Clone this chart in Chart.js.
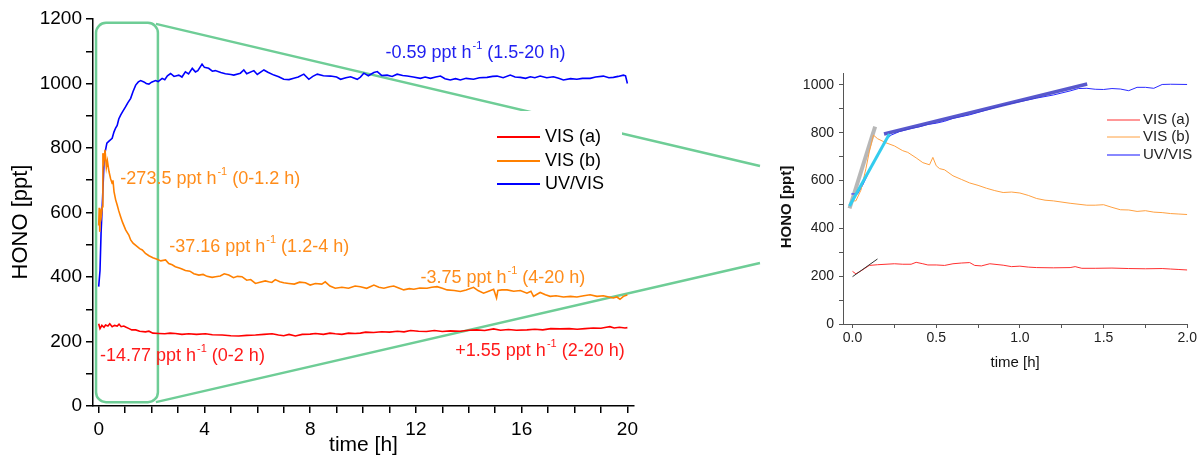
<!DOCTYPE html>
<html>
<head>
<meta charset="utf-8">
<script src="https://cdn.jsdelivr.net/npm/chart.js@4.4.1/dist/chart.umd.min.js"></script>
<style>
  html, body { margin: 0; padding: 0; background: #fff; }
  #wrap { position: relative; width: 1199px; height: 456px; overflow: hidden; }
  #main { position: absolute; left: 0; top: 0; }
  #inset { position: absolute; left: 760px; top: 0; }
</style>
</head>
<body>
<div id="wrap">
  <canvas id="main" width="1199" height="456"></canvas>
  <canvas id="inset" width="439" height="456"></canvas>
</div>
<script>
// ---- main panel data (time in h, HONO in ppt) ----
const redTime = [0, 0.05, 0.12, 0.2, 0.26, 0.35, 0.42, 0.51, 0.6, 0.7, 0.77, 0.85, 0.95, 1.02, 1.15, 1.25, 1.4, 1.55, 1.77, 1.9,
  2.05, 2.28, 2.5, 2.7, 2.9, 3.15, 3.41, 3.7, 4.04, 4.3, 4.67, 5.0, 5.3, 5.6, 5.93, 6.25, 6.56, 6.8, 7.0, 7.2,
  7.44, 7.7, 8.0, 8.2, 8.5, 8.75, 8.95, 9.2, 9.45, 9.7, 9.9, 10.1, 10.4, 10.7, 11.0, 11.3, 11.55, 11.8, 12.1, 12.4,
  12.7, 13.0, 13.3, 13.68, 14.0, 14.3, 14.6, 14.94, 15.2, 15.5, 15.8, 16.2, 16.5, 16.8, 17.1, 17.46, 17.8, 18.1, 18.4, 18.71,
  19.0, 19.2, 19.34, 19.5, 19.7, 19.91, 20.0];
const redValues = [255, 240, 250, 244, 251, 248, 255, 246, 250, 248, 254, 246, 248, 245, 240, 236, 236, 232, 230, 232,
  226, 225, 224, 226, 225, 222, 224, 222, 224, 221, 220, 218, 217, 219, 220, 222, 224, 220, 218, 222,
  217, 222, 223, 225, 222, 226, 224, 222, 226, 225, 226, 229, 228, 230, 229, 232, 230, 234, 232, 231,
  234, 231, 233, 232, 235, 236, 234, 239, 235, 237, 235, 236, 238, 236, 240, 239, 240, 238, 240, 242,
  241, 244, 246, 242, 244, 242, 243];

const orangeTime = [0, 0.02, 0.04, 0.07, 0.1, 0.14, 0.16, 0.2, 0.24, 0.29, 0.33, 0.39, 0.45, 0.51, 0.54, 0.58, 0.64, 0.7, 0.76, 0.83,
  0.9, 1.02, 1.14, 1.21, 1.3, 1.46, 1.55, 1.65, 1.77, 1.9, 2.05, 2.21, 2.35, 2.53, 2.65, 2.78, 2.9, 3.05, 3.15, 3.28,
  3.45, 3.6, 3.79, 3.95, 4.1, 4.29, 4.42, 4.6, 4.75, 4.92, 5.1, 5.25, 5.42, 5.6, 5.75, 5.93, 6.1, 6.3, 6.43, 6.55,
  6.68, 6.85, 7.0, 7.19, 7.4, 7.6, 7.82, 8.0, 8.2, 8.44, 8.57, 8.75, 8.95, 9.2, 9.45, 9.7, 9.9, 10.14, 10.41, 10.6,
  10.79, 11.0, 11.16, 11.35, 11.54, 11.75, 11.92, 12.15, 12.42, 12.6, 12.8, 13.0, 13.18, 13.45, 13.68, 13.9, 14.18, 14.35, 14.56, 14.75,
  14.94, 15.05, 15.1, 15.25, 15.45, 15.7, 15.95, 16.2, 16.35, 16.45, 16.55, 16.7, 16.9, 17.08, 17.3, 17.58, 17.85, 18.09, 18.35, 18.59,
  18.85, 19.09, 19.3, 19.47, 19.6, 19.72, 19.85, 19.91, 20.0];
const orangeValues = [560, 615, 540, 610, 590, 618, 784, 760, 794, 740, 760, 727, 705, 690, 700, 665, 640, 623, 605, 587,
  570, 546, 530, 515, 505, 494, 488, 484, 473, 466, 460, 455, 450, 453, 442, 438, 432, 428, 425, 420,
  418, 410, 406, 408, 402, 399, 401, 403, 410, 406, 398, 402, 401, 390, 392, 380, 384, 388, 385, 383,
  392, 385, 382, 380, 378, 384, 382, 375, 380, 378, 385, 372, 365, 368, 365, 372, 370, 365, 375, 368,
  365, 370, 372, 366, 360, 364, 362, 366, 365, 368, 370, 365, 360, 358, 355, 360, 368, 358, 350, 356,
  362, 335, 358, 360, 360, 356, 358, 350, 356, 340, 345, 352, 345, 340, 342, 338, 340, 338, 342, 345,
  340, 342, 338, 335, 338, 331, 340, 342, 344];

const blueTime = [0, 0.05, 0.09, 0.15, 0.21, 0.31, 0.4, 0.51, 0.58, 0.64, 0.7, 0.76, 0.83, 0.9, 1.02, 1.1, 1.21, 1.3, 1.4, 1.5,
  1.59, 1.71, 1.8, 1.9, 2.0, 2.15, 2.25, 2.4, 2.5, 2.6, 2.72, 2.85, 3.03, 3.15, 3.28, 3.4, 3.54, 3.66, 3.75, 3.91,
  4.0, 4.16, 4.3, 4.41, 4.62, 4.79, 5.0, 5.11, 5.36, 5.49, 5.6, 5.87, 6.0, 6.25, 6.4, 6.63, 6.81, 7.0, 7.2, 7.38,
  7.55, 7.76, 7.95, 8.1, 8.27, 8.5, 8.77, 9.0, 9.15, 9.35, 9.53, 9.78, 9.9, 10.03, 10.2, 10.41, 10.54, 10.7, 10.91, 11.1,
  11.29, 11.5, 11.67, 11.9, 12.17, 12.35, 12.55, 12.75, 12.93, 13.1, 13.3, 13.5, 13.68, 13.9, 14.18, 14.4, 14.69, 14.9, 15.07, 15.3,
  15.57, 15.75, 15.95, 16.15, 16.33, 16.5, 16.7, 16.95, 17.2, 17.4, 17.58, 17.85, 18.09, 18.3, 18.59, 18.8, 19.09, 19.3, 19.47, 19.65,
  19.85, 19.93, 20.0];
const blueValues = [370, 420, 536, 650, 773, 815, 822, 830, 850, 862, 870, 890, 902, 912, 928, 940, 954, 975, 995, 1005,
  1009, 1005, 1000, 998, 1004, 1009, 1006, 1016, 1012, 1024, 1031, 1022, 1026, 1020, 1036, 1030, 1047, 1036, 1040, 1060,
  1050, 1047, 1038, 1040, 1034, 1030, 1028, 1026, 1032, 1042, 1030, 1040, 1028, 1042, 1035, 1026, 1021, 1013, 1012, 1016,
  1020, 1029, 1013, 1022, 1029, 1024, 1023, 1020, 1013, 1018, 1021, 1013, 1020, 1032, 1024, 1034, 1037, 1025, 1026, 1022,
  1029, 1025, 1023, 1020, 1016, 1020, 1016, 1020, 1023, 1015, 1011, 1015, 1011, 1016, 1013, 1018, 1019, 1022, 1023, 1018,
  1026, 1020, 1019, 1016, 1021, 1018, 1023, 1018, 1021, 1016, 1011, 1015, 1013, 1016, 1016, 1020, 1023, 1018, 1019, 1022,
  1026, 1024, 1000];

// slope labels: [text, superscript, tail, x (h), y (ppt), colour]
const rateLabels = [
  ['-0.59 ppt h', '-1', ' (1.5-20 h)', 10.85, 1096, '#2020f0'],
  ['-273.5 ppt h', '-1', ' (0-1.2 h)', 0.82, 705, '#ff8c1a'],
  ['-37.16 ppt h', '-1', ' (1.2-4 h)', 2.67, 494, '#ff8c1a'],
  ['-3.75 ppt h', '-1', ' (4-20 h)', 12.17, 397, '#ff8c1a'],
  ['-14.77 ppt h', '-1', ' (0-2 h)', 0.05, 156, '#ff1a1a'],
  ['+1.55 ppt h', '-1', ' (2-20 h)', 13.49, 171, '#ff1a1a']
];
// zoomed region on the main panel: [tMin, tMax, vMin, vMax]
const zoomBox = [-0.1, 2.24, 12, 1188];

// ---- inset data (0-2 h) ----
const insetRedTime = [0, 0.02, 0.05, 0.1, 0.15, 0.2, 0.25, 0.3, 0.35, 0.38, 0.42, 0.45, 0.5, 0.55, 0.6, 0.65, 0.7, 0.73, 0.77, 0.82,
  0.9, 0.95, 1.0, 1.05, 1.1, 1.2, 1.3, 1.33, 1.37, 1.45, 1.55, 1.65, 1.75, 1.85, 1.9, 1.95, 2.0];
const insetRedValues = [220, 210, 222, 245, 248, 250, 252, 250, 250, 258, 252, 247, 247, 245, 252, 255, 257, 245, 243, 252,
  246, 240, 242, 238, 236, 235, 236, 240, 233, 233, 234, 232, 231, 232, 230, 228, 226];
const insetOrangeTime = [0, 0.02, 0.05, 0.08, 0.1, 0.125, 0.15, 0.2, 0.25, 0.3, 0.33, 0.38, 0.42, 0.46, 0.48, 0.5, 0.52, 0.55, 0.6, 0.65,
  0.7, 0.75, 0.8, 0.85, 0.9, 0.95, 1.0, 1.05, 1.1, 1.15, 1.2, 1.3, 1.4, 1.45, 1.5, 1.55, 1.6, 1.65, 1.7, 1.75,
  1.8, 1.85, 1.9, 1.95, 2.0];
const insetOrangeValues = [515, 515, 560, 650, 720, 790, 775, 758, 745, 725, 718, 695, 675, 666, 697, 662, 650, 645, 620, 605,
  590, 580, 568, 558, 550, 552, 548, 538, 525, 518, 515, 505, 497, 497, 499, 488, 478, 477, 471, 474,
  468, 466, 462, 460, 458];
const insetBlueTime = [-0.008, 0.03, 0.06, 0.1, 0.15, 0.2, 0.23, 0.28, 0.35, 0.4, 0.45, 0.5, 0.55, 0.6, 0.7, 0.8, 0.9, 1.0, 1.1, 1.2,
  1.3, 1.35, 1.4, 1.45, 1.5, 1.55, 1.6, 1.65, 1.7, 1.75, 1.8, 1.85, 1.9, 2.0];
const insetBlueValues = [544, 544, 580, 640, 710, 770, 790, 805, 818, 825, 835, 840, 848, 860, 875, 895, 915, 930, 945, 958,
  975, 985, 986, 982, 981, 985, 983, 976, 990, 990, 986, 1002, 1003, 1002];
// fitted lines in the inset: [t0, v0, t1, v1]
const fitGrey = [-0.018, 484, 0.135, 826];
const fitCyan = [-0.018, 494, 0.22, 795];
const fitBlue = [0.188, 795, 1.402, 1004];
const fitBlack = [0, 198, 0.149, 272];

const FONT = 'Arial, "Liberation Sans", sans-serif';
const GREEN = 'rgb(110,205,150)';

function pts(t, v) {
    return t.map((x, i) => ({ x: x, y: v[i] }));
}
function seg(f) {
    return [{ x: f[0], y: f[1] }, { x: f[2], y: f[3] }];
}
function stepTicks(from, to, step) {
    const out = [];
    for (let v = from; v <= to + 1e-9; v += step) out.push({ value: Math.round(v * 1000) / 1000 });
    return out;
}

// ---- main panel ----
const mainDecor = {
    id: 'mainDecor',
    beforeDatasetsDraw(chart) {
        const ctx = chart.ctx;
        const x = chart.scales.x, y = chart.scales.y;
        const l = x.getPixelForValue(zoomBox[0]), r = x.getPixelForValue(zoomBox[1]);
        const b = y.getPixelForValue(zoomBox[2]), t = y.getPixelForValue(zoomBox[3]);
        ctx.save();
        ctx.strokeStyle = GREEN;
        ctx.lineWidth = 2.5;
        ctx.beginPath();
        ctx.roundRect(l, t, r - l, b - t, 10);
        ctx.stroke();
        ctx.beginPath();
        ctx.moveTo(r - 2, t + 1);
        ctx.lineTo(760, 166);
        ctx.moveTo(r - 2, b);
        ctx.lineTo(760, 263);
        ctx.stroke();

        // legend box (white, hides the connector behind it)
        ctx.fillStyle = '#fff';
        ctx.fillRect(490, 111, 132, 88);
        const names = ['VIS (a)', 'VIS (b)', 'UV/VIS'];
        const cols = ['#ff0000', '#ff8000', '#0000ff'];
        const rows = [137, 161, 184];
        ctx.font = '18px ' + FONT;
        ctx.textBaseline = 'middle';
        for (let i = 0; i < 3; i++) {
            ctx.strokeStyle = cols[i];
            ctx.lineWidth = 2;
            ctx.beginPath();
            ctx.moveTo(497, rows[i]);
            ctx.lineTo(540, rows[i]);
            ctx.stroke();
            ctx.fillStyle = '#000';
            ctx.fillText(names[i], 545, rows[i]);
        }
        ctx.restore();
    },
    afterDatasetsDraw(chart) {
        const ctx = chart.ctx;
        const x = chart.scales.x, y = chart.scales.y;
        ctx.save();
        ctx.textBaseline = 'middle';
        rateLabels.forEach(function(a) {
            let px = x.getPixelForValue(a[3]);
            const py = y.getPixelForValue(a[4]);
            ctx.fillStyle = a[5];
            ctx.font = '18px ' + FONT;
            ctx.fillText(a[0], px, py);
            px += ctx.measureText(a[0]).width + 1;
            ctx.font = '11px ' + FONT;
            ctx.fillText(a[1], px, py - 7);
            px += ctx.measureText(a[1]).width;
            ctx.font = '18px ' + FONT;
            ctx.fillText(a[2], px, py);
        });
        // axis titles
        ctx.fillStyle = '#000';
        ctx.textAlign = 'center';
        ctx.font = '21px ' + FONT;
        ctx.fillText('time [h]', (chart.chartArea.left + chart.chartArea.right) / 2, 445);
        ctx.translate(21, 222);
        ctx.rotate(-Math.PI / 2);
        ctx.font = '22px ' + FONT;
        ctx.fillText('HONO [ppt]', 0, 0);
        ctx.restore();
    }
};

new Chart(document.getElementById('main').getContext('2d'), {
    type: 'line',
    data: {
        datasets: [
            { label: 'VIS (a)', data: pts(redTime, redValues), borderColor: '#ff0000', borderWidth: 1.6 },
            { label: 'VIS (b)', data: pts(orangeTime, orangeValues), borderColor: '#ff8000', borderWidth: 1.6 },
            { label: 'UV/VIS', data: pts(blueTime, blueValues), borderColor: '#0000ff', borderWidth: 1.6 }
        ]
    },
    options: {
        responsive: false,
        animation: false,
        events: [],
        elements: { point: { radius: 0 }, line: { tension: 0 } },
        layout: { padding: { top: 19, right: 565, bottom: 0, left: 0 } },
        plugins: { legend: { display: false }, tooltip: { enabled: false } },
        scales: {
            x: {
                type: 'linear',
                min: -0.215,
                max: 20.25,
                afterBuildTicks: function(s) { s.ticks = stepTicks(0, 20, 1); },
                afterFit: function(s) { s.height = 50; },
                border: { color: '#000', width: 1.5 },
                grid: { drawOnChartArea: false, tickLength: 7, color: '#000', lineWidth: 1.5 },
                ticks: {
                    autoSkip: false, maxRotation: 0, padding: 5, color: '#000',
                    font: { family: FONT, size: 19 },
                    callback: function(v) { return v % 4 === 0 ? String(v) : ''; }
                }
            },
            y: {
                min: 0,
                max: 1200,
                afterBuildTicks: function(s) { s.ticks = stepTicks(0, 1200, 100); },
                afterFit: function(s) { s.width = 93; },
                border: { color: '#000', width: 1.5 },
                grid: { drawOnChartArea: false, tickLength: 7, color: '#000', lineWidth: 1.5 },
                ticks: {
                    autoSkip: false, padding: 4, color: '#000',
                    font: { family: FONT, size: 19 },
                    callback: function(v) { return v % 200 === 0 ? String(v) : ''; }
                }
            }
        }
    },
    plugins: [mainDecor]
});

// ---- inset panel ----
const insetDecor = {
    id: 'insetDecor',
    afterDatasetsDraw(chart) {
        const ctx = chart.ctx;
        ctx.save();
        const names = ['VIS (a)', 'VIS (b)', 'UV/VIS'];
        const cols = ['#ff3030', '#ffa040', '#6060ff'];
        const rows = [120, 137, 155];
        ctx.font = '15px ' + FONT;
        ctx.textBaseline = 'middle';
        for (let i = 0; i < 3; i++) {
            ctx.strokeStyle = cols[i];
            ctx.lineWidth = i === 2 ? 1.5 : 1;
            ctx.beginPath();
            ctx.moveTo(347, rows[i]);
            ctx.lineTo(380, rows[i]);
            ctx.stroke();
            ctx.fillStyle = '#222';
            ctx.fillText(names[i], 383, rows[i]);
        }
        ctx.fillStyle = '#111';
        ctx.textAlign = 'center';
        ctx.font = '15px ' + FONT;
        ctx.fillText('time [h]', (chart.chartArea.left + chart.chartArea.right) / 2, 363);
        ctx.translate(27, 207);
        ctx.rotate(-Math.PI / 2);
        ctx.font = 'bold 15px ' + FONT;
        ctx.fillText('HONO [ppt]', 0, 0);
        ctx.restore();
    }
};

new Chart(document.getElementById('inset').getContext('2d'), {
    type: 'line',
    data: {
        datasets: [
            { label: 'fit a', data: seg(fitBlack), borderColor: '#333', borderWidth: 1, order: 0 },
            { label: 'fit b', data: seg(fitGrey), borderColor: 'rgba(170,170,170,0.85)', borderWidth: 4, order: 5 },
            { label: 'fit uv 1', data: seg(fitCyan), borderColor: '#33ccee', borderWidth: 3, order: 1 },
            { label: 'fit uv 2', data: seg(fitBlue), borderColor: 'rgba(70,70,200,0.9)', borderWidth: 3.5, order: 1 },
            { label: 'VIS (a)', data: pts(insetRedTime, insetRedValues), borderColor: '#ff3030', borderWidth: 1, order: 3 },
            { label: 'VIS (b)', data: pts(insetOrangeTime, insetOrangeValues), borderColor: '#ffa040', borderWidth: 1, order: 3 },
            { label: 'UV/VIS', data: pts(insetBlueTime, insetBlueValues), borderColor: '#2a2aff', borderWidth: 1, order: 3 }
        ]
    },
    options: {
        responsive: false,
        animation: false,
        events: [],
        elements: { point: { radius: 0 }, line: { tension: 0 } },
        layout: { padding: { top: 73, right: 10, bottom: 92, left: 0 } },
        plugins: { legend: { display: false }, tooltip: { enabled: false } },
        scales: {
            x: {
                type: 'linear',
                min: -0.057,
                max: 2.0,
                afterBuildTicks: function(s) { s.ticks = stepTicks(0, 2, 0.25); },
                afterFit: function(s) { s.height = 40; },
                border: { color: '#555', width: 1 },
                grid: { drawOnChartArea: false, tickLength: 4, color: '#555', lineWidth: 1 },
                ticks: {
                    autoSkip: false, maxRotation: 0, padding: 2, color: '#222',
                    font: { family: FONT, size: 14 },
                    callback: function(v) {
                        return Math.abs(v * 2 - Math.round(v * 2)) < 1e-6 ? v.toFixed(1) : '';
                    }
                }
            },
            y: {
                min: 0,
                max: 1050,
                afterBuildTicks: function(s) { s.ticks = stepTicks(0, 1000, 100); },
                afterFit: function(s) { s.width = 83; },
                border: { color: '#555', width: 1 },
                grid: { drawOnChartArea: false, tickLength: 4, color: '#555', lineWidth: 1 },
                ticks: {
                    autoSkip: false, padding: 5, color: '#222',
                    font: { family: FONT, size: 14 },
                    callback: function(v) { return v % 200 === 0 ? String(v) : ''; }
                }
            }
        }
    },
    plugins: [insetDecor]
});
</script>
</body>
</html>
